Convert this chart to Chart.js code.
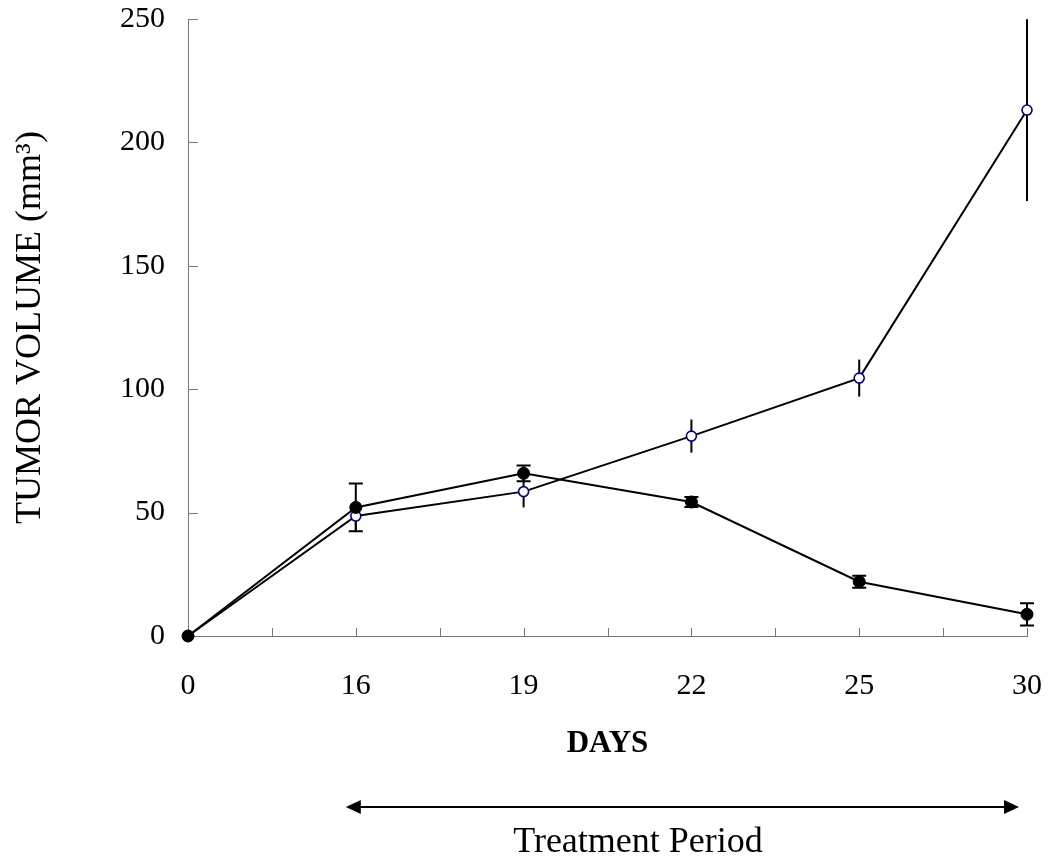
<!DOCTYPE html>
<html lang="en">
<head>
<meta charset="UTF-8">
<title>Tumor volume</title>
<script src="https://cdn.jsdelivr.net/npm/chart.js"></script>
<style>
  html, body { margin: 0; padding: 0; background: #fff; }
</style>
</head>
<body>
<canvas id="chart" width="1048" height="856"></canvas>
<script>
  const dayLabels = ['0', '16', '19', '22', '25', '30'];
  const treated = [0, 52.1, 65.9, 54.3, 22.0, 8.8];
  const treatedErr = [0, 9.7, 3.2, 2.0, 2.4, 4.5];
  const control = [0, 48.6, 58.5, 81.0, 104.5, 213.1];
  const controlErr = [0, 6.5, 6.4, 6.7, 7.5, 36.8];

  const serif = "'Liberation Serif', 'Times New Roman', serif";
  Chart.defaults.font.family = serif;
  Chart.defaults.color = '#000';

  const toPoints = arr => arr.map((v, i) => ({ x: i, y: v }));

  // vertical error bars, caps only for the treated series
  const errorBars = {
    id: 'errorBars',
    beforeDatasetsDraw(chart) {
      const { ctx, scales: { x, y } } = chart;
      chart.data.datasets.forEach(ds => {
        ctx.save();
        ctx.strokeStyle = '#000';
        ctx.lineWidth = 2;
        ds.data.forEach((pt, i) => {
          const e = ds.errors[i];
          if (!e) return;
          const px = x.getPixelForValue(pt.x);
          const top = y.getPixelForValue(pt.y + e);
          const bot = y.getPixelForValue(pt.y - e);
          ctx.beginPath();
          ctx.moveTo(px, top);
          ctx.lineTo(px, bot);
          if (ds.cap) {
            ctx.moveTo(px - ds.cap, top); ctx.lineTo(px + ds.cap, top);
            ctx.moveTo(px - ds.cap, bot); ctx.lineTo(px + ds.cap, bot);
          }
          ctx.stroke();
        });
        ctx.restore();
      });
    }
  };

  // tick marks pointing into the plot
  const innerTicks = {
    id: 'innerTicks',
    beforeDatasetsDraw(chart) {
      const { ctx, chartArea: a, scales: { x, y } } = chart;
      ctx.save();
      ctx.strokeStyle = '#777';
      ctx.lineWidth = 1;
      ctx.beginPath();
      y.ticks.forEach(t => {
        if (t.value === 0) return;
        const py = Math.round(y.getPixelForValue(t.value)) + 0.5;
        ctx.moveTo(a.left, py); ctx.lineTo(a.left + 10, py);
      });
      x.ticks.forEach(t => {
        if (t.value === 0) return;
        const px = Math.round(x.getPixelForValue(t.value)) + 0.5;
        ctx.moveTo(px, a.bottom); ctx.lineTo(px, a.bottom - 8);
      });
      ctx.stroke();
      ctx.restore();
    }
  };

  // treatment period arrow below the axis
  const treatment = {
    id: 'treatment',
    afterDraw(chart) {
      const { ctx, scales: { x } } = chart;
      const x1 = x.getPixelForValue(1) - 10;
      const x2 = x.getPixelForValue(5) - 8;
      const yy = 807;
      ctx.save();
      ctx.strokeStyle = '#000';
      ctx.fillStyle = '#000';
      ctx.lineWidth = 2;
      ctx.beginPath();
      ctx.moveTo(x1 + 10, yy); ctx.lineTo(x2 - 10, yy);
      ctx.stroke();
      ctx.beginPath();
      ctx.moveTo(x1, yy); ctx.lineTo(x1 + 15, yy - 7); ctx.lineTo(x1 + 15, yy + 7); ctx.closePath();
      ctx.moveTo(x2, yy); ctx.lineTo(x2 - 15, yy - 7); ctx.lineTo(x2 - 15, yy + 7); ctx.closePath();
      ctx.fill();
      ctx.font = '36px ' + serif;
      ctx.textAlign = 'center';
      ctx.textBaseline = 'alphabetic';
      ctx.fillText('Treatment Period', 638, 852);
      ctx.restore();
    }
  };

  new Chart(document.getElementById('chart'), {
    type: 'line',
    data: {
      datasets: [
        {
          label: 'Treated',
          data: toPoints(treated),
          errors: treatedErr,
          cap: 7,
          borderColor: '#000',
          borderWidth: 2,
          pointRadius: 6,
          pointBackgroundColor: '#000',
          pointBorderColor: '#000',
          pointBorderWidth: 1,
          tension: 0,
          clip: false
        },
        {
          label: 'Control',
          data: toPoints(control),
          errors: controlErr,
          cap: 0,
          borderColor: '#000',
          borderWidth: 2,
          pointRadius: 5,
          pointBackgroundColor: '#fff',
          pointBorderColor: '#000099',
          pointBorderWidth: 1.6,
          tension: 0,
          clip: false
        }
      ]
    },
    options: {
      responsive: false,
      animation: false,
      events: [],
      layout: { padding: { top: 19, right: 21, left: 0, bottom: 0 } },
      plugins: { legend: { display: false }, tooltip: { enabled: false } },
      scales: {
        x: {
          type: 'linear',
          min: 0,
          max: 5,
          grid: { display: false, drawTicks: false },
          border: { color: '#777', width: 1 },
          ticks: {
            stepSize: 0.5,
            padding: 32,
            autoSkip: false,
            maxRotation: 0,
            font: { size: 30 },
            callback: v => Number.isInteger(v) ? dayLabels[v] : ''
          },
          title: {
            display: true,
            text: 'DAYS',
            font: { size: 31, weight: 'bold' },
            padding: { top: 0, bottom: 93 }
          },
          afterFit: s => { s.height = 220; s.paddingLeft = 0; s.paddingRight = 0; }
        },
        y: {
          min: 0,
          max: 250,
          grid: { display: false, drawTicks: false },
          border: { color: '#777', width: 1 },
          ticks: { stepSize: 50, padding: 23, font: { size: 30 } },
          title: {
            display: true,
            text: 'TUMOR VOLUME (mm³)',
            font: { size: 36 },
            padding: { top: 9, bottom: 0 }
          },
          afterFit: s => { s.width = 188; s.paddingTop = 0; s.paddingBottom = 0; }
        }
      }
    },
    plugins: [errorBars, innerTicks, treatment]
  });
</script>
</body>
</html>
